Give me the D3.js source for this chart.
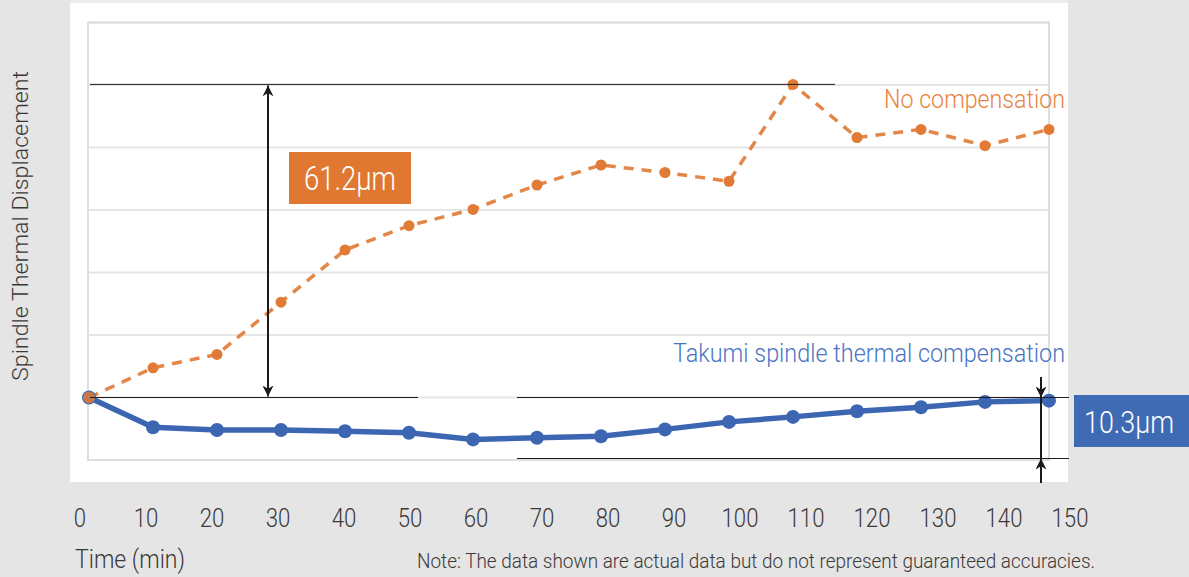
<!DOCTYPE html>
<html><head><meta charset="utf-8">
<script src="https://cdn.jsdelivr.net/npm/d3@7"></script>
<style>
html,body{margin:0;padding:0;background:#e5e5e5;}
svg{display:block;font-family:Roboto,"Noto Sans",sans-serif;font-weight:300;}
</style></head>
<body>
<svg id="chart" width="1189" height="577"></svg>
<script>
const times = [0,10,20,30,40,50,60,70,80,90,100,110,120,130,140,150];
const noCompensation = [0,4.75,6.9,15.25,23.6,27.5,30.1,34.0,37.2,36.0,34.6,50.1,41.6,42.9,40.3,42.9];
const takumi = [0,-4.75,-5.2,-5.2,-5.4,-5.65,-6.7,-6.45,-6.2,-5.1,-3.9,-3.1,-2.2,-1.55,-0.7,-0.5];
const tickLabels = ["0","10","20","30","40","50","60","70","80","90","100","110","120","130","140","150"];
const gridValues = [-10,0,10,20,30,40,50,60];
const rangeText = "61.2µm";
const compText = "10.3µm";
const seriesNames = ["No compensation","Takumi spindle thermal compensation"];
const yTitle = "Spindle Thermal Displacement";
const xTitle = "Time (min)";
const note = "Note: The data shown are actual data but do not represent guaranteed accuracies.";

const svg = d3.select("#chart");
const orange = "#e07a35", blue = "#3d66b2", dark = "#1c1a1a", textCol = "#3b3838";

const x = d3.scaleLinear().domain([0,150]).range([89,1049]);
const y = d3.scaleLinear().domain([-10,60]).range([460,22.5]);
const xLab = d3.scaleLinear().domain([0,150]).range([80,1070]);

// background
svg.append("rect").attr("width",1189).attr("height",577).attr("fill","#e5e5e5");
svg.append("rect").attr("x",70).attr("y",0).attr("width",998).attr("height",482).attr("fill","#ffffff");
svg.append("line").attr("x1",70).attr("x2",1068).attr("y1",1.5).attr("y2",1.5).attr("stroke","#ececec").attr("stroke-width",3);

// grid
svg.append("g").selectAll("line").data(gridValues).join("line")
  .attr("x1",88).attr("x2",1049).attr("y1",d=>y(d)).attr("y2",d=>y(d))
  .attr("stroke","#e6e6e6").attr("stroke-width",2);
svg.append("rect").attr("x",88).attr("y",y(60)).attr("width",961).attr("height",y(-10)-y(60))
  .attr("fill","none").attr("stroke","#dedede").attr("stroke-width",2);

// markers
const defs = svg.append("defs");
defs.append("marker").attr("id","ah").attr("viewBox","0 0 10 10").attr("refX",10).attr("refY",5)
  .attr("markerWidth",5.5).attr("markerHeight",5.5).attr("orient","auto-start-reverse").attr("markerUnits","strokeWidth")
  .append("path").attr("d","M0,0 L10,5 L0,10 L3,5 Z").attr("fill",dark);

// series
const line = d3.line().x((d,i)=>x(times[i])).y(d=>y(d));
svg.append("path").datum(noCompensation).attr("d",line).attr("fill","none")
  .attr("stroke",orange).attr("stroke-width",3.5).attr("stroke-dasharray","10,8").attr("opacity",0.9);
svg.append("g").selectAll("circle").data(noCompensation).join("circle")
  .attr("cx",(d,i)=>x(times[i])).attr("cy",d=>y(d)).attr("r",5.5).attr("fill",orange);

svg.append("path").datum(takumi).attr("d",line).attr("fill","none")
  .attr("stroke",blue).attr("stroke-width",5.5);
svg.append("g").selectAll("circle").data(takumi).join("circle")
  .attr("cx",(d,i)=>x(times[i])).attr("cy",d=>y(d)).attr("r",7).attr("fill",blue);
// first point orange overlay
svg.append("circle").attr("cx",x(0)).attr("cy",y(noCompensation[0])).attr("r",6).attr("fill",orange).attr("opacity",0.85);

// 61.2 annotation
const yMax = y(d3.max(noCompensation));
svg.append("line").attr("x1",90).attr("x2",835).attr("y1",yMax).attr("y2",yMax).attr("stroke",dark).attr("stroke-width",1);
svg.append("line").attr("x1",90).attr("x2",418).attr("y1",y(0)).attr("y2",y(0)).attr("stroke",dark).attr("stroke-width",1);
svg.append("line").attr("x1",268).attr("x2",268).attr("y1",yMax+1).attr("y2",y(0)-1)
  .attr("stroke",dark).attr("stroke-width",2).attr("marker-start","url(#ah)").attr("marker-end","url(#ah)");
svg.append("rect").attr("x",289).attr("y",152).attr("width",122).attr("height",52).attr("fill","#e07832");
svg.append("text").attr("x",350).attr("y",190).attr("text-anchor","middle").attr("fill","#fff")
  .attr("font-size",33).attr("textLength",92).attr("lengthAdjust","spacingAndGlyphs").text(rangeText);

// 10.3 annotation
svg.append("line").attr("x1",517).attr("x2",1069).attr("y1",y(0)).attr("y2",y(0)).attr("stroke",dark).attr("stroke-width",1);
svg.append("line").attr("x1",517).attr("x2",1069).attr("y1",458.5).attr("y2",458.5).attr("stroke",dark).attr("stroke-width",1);
svg.append("line").attr("x1",1041).attr("x2",1041).attr("y1",377).attr("y2",y(0)).attr("stroke",dark).attr("stroke-width",2).attr("marker-end","url(#ah)");
svg.append("line").attr("x1",1041).attr("x2",1041).attr("y1",483).attr("y2",458.5).attr("stroke",dark).attr("stroke-width",2).attr("marker-end","url(#ah)");
svg.append("line").attr("x1",1041).attr("x2",1041).attr("y1",y(0)).attr("y2",458.5).attr("stroke",dark).attr("stroke-width",2);
svg.append("rect").attr("x",1074).attr("y",395).attr("width",115).attr("height",52).attr("fill","#3f6bb4");
svg.append("text").attr("x",1084).attr("y",433).attr("text-anchor","start").attr("fill","#fff")
  .attr("font-size",31).attr("textLength",90).attr("lengthAdjust","spacingAndGlyphs").text(compText);

// series labels
svg.append("text").attr("x",1065).attr("y",108).attr("text-anchor","end").attr("fill","#e8843f")
  .attr("font-size",26).attr("textLength",181).attr("lengthAdjust","spacingAndGlyphs").text(seriesNames[0]);
svg.append("text").attr("x",1065).attr("y",362).attr("text-anchor","end").attr("fill","#4a74c2")
  .attr("font-size",26).attr("textLength",392).attr("lengthAdjust","spacingAndGlyphs").text(seriesNames[1]);

// x tick labels
svg.append("g").selectAll("text").data(tickLabels).join("text")
  .attr("x",(d,i)=>xLab(times[i])).attr("y",527).attr("text-anchor","middle").attr("fill",textCol)
  .attr("font-size",25).attr("textLength",d=>d.length*12.3).attr("lengthAdjust","spacingAndGlyphs").text(d=>d);

// titles
svg.append("text").attr("x",75).attr("y",568).attr("fill",textCol).attr("font-size",25)
  .attr("textLength",110).attr("lengthAdjust","spacingAndGlyphs").text(xTitle);
svg.append("text").attr("x",417).attr("y",568).attr("fill",textCol).attr("font-size",21)
  .attr("textLength",678).attr("lengthAdjust","spacingAndGlyphs").text(note);
svg.append("text").attr("transform","translate(28,226) rotate(-90)").attr("text-anchor","middle")
  .attr("fill",textCol).attr("font-size",22).attr("textLength",310).attr("lengthAdjust","spacingAndGlyphs").text(yTitle);
</script>
</body></html>
